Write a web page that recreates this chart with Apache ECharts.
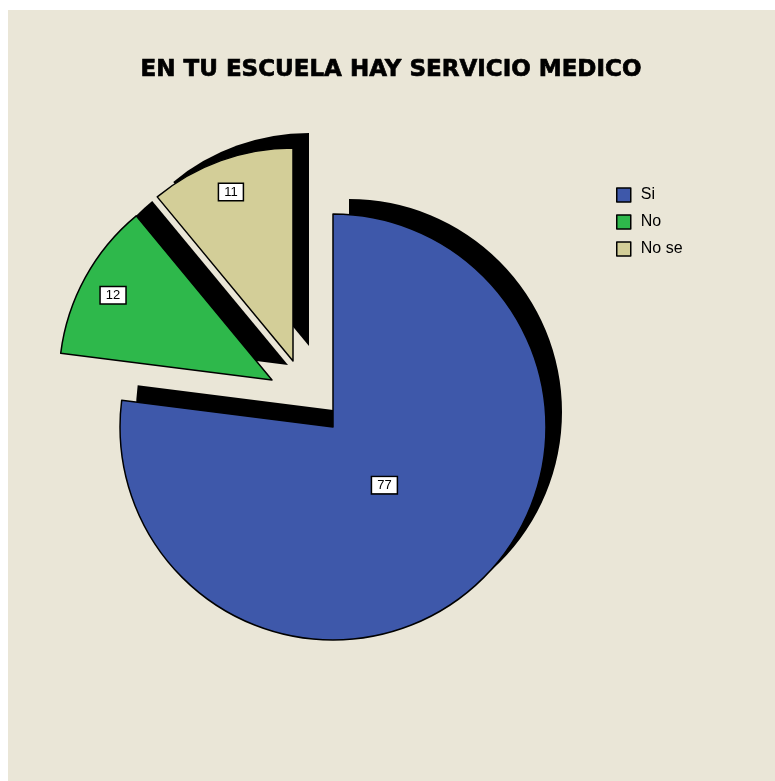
<!DOCTYPE html>
<html>
<head>
<meta charset="utf-8">
<script src="https://cdn.jsdelivr.net/npm/echarts@6/dist/echarts.min.js"></script>
<style>
html,body{margin:0;padding:0;background:#ffffff;}
#frame{position:absolute;left:8px;top:10px;width:767px;height:771px;background:#EAE6D7;}
#chart{width:767px;height:771px;}
</style>
</head>
<body>
<div id="frame"><div id="chart"></div></div>
<script>
const titleText = 'EN TU ESCUELA HAY SERVICIO MEDICO';
const categories = ['Si', 'No', 'No se'];
const values = [77, 12, 11];
const colors = ['#3E58AA', '#2EB84B', '#D3CE98'];
// explosion offsets of each slice (px, x/y) as drawn by the original
const explodeX = [0, -61, -40];
const explodeY = [0, -47, -66];
// label nudges (px) relative to default inner position
const labelDx = [-21, -63, -25];
const labelDy = [-24, -32, -66];

const chart = echarts.init(document.getElementById('chart'), null, {renderer: 'canvas'});
const cx = 325, cy = 417, R = 213, shX = 16, shY = -15;
const FONT = 'Liberation Sans, Arial, sans-serif';
const clear = 'rgba(0,0,0,0)';

function sliceData(k, shadow) {
  return categories.map((c, i) => ({
    name: c, value: values[i],
    itemStyle: i === k
      ? (shadow ? {color: '#000', borderWidth: 0} : {color: colors[i], borderColor: '#000', borderWidth: 1.5})
      : {color: clear, borderWidth: 0},
    label: {show: !shadow && i === k}
  }));
}

const series = [];
categories.forEach((c, k) => {
  series.push({
    type: 'pie', name: 'slice' + k, z: 3,
    center: [cx + explodeX[k], cy + explodeY[k]], radius: [0, R],
    startAngle: 90, clockwise: true,
    avoidLabelOverlap: false, silent: true,
    label: {
      position: 'inner', formatter: '{c}',
      fontFamily: FONT, fontSize: 13, color: '#000',
      backgroundColor: '#fff', borderColor: '#000', borderWidth: 1.5, padding: [2, 5, 1, 5]
    },
    labelLine: {show: false},
    labelLayout: function (p) { return {dx: labelDx[p.dataIndex], dy: labelDy[p.dataIndex]}; },
    emphasis: {disabled: true},
    data: sliceData(k, false)
  });
});
categories.forEach((c, k) => {
  series.push({
    type: 'pie', name: 'shadow' + k, z: 1,
    center: [cx + explodeX[k] + shX, cy + explodeY[k] + shY], radius: [0, R],
    startAngle: 90, clockwise: true, silent: true,
    label: {show: false}, labelLine: {show: false},
    emphasis: {disabled: true},
    data: sliceData(k, true)
  });
});

chart.setOption({
  animation: false,
  backgroundColor: 'transparent',
  title: {
    text: titleText, left: 378, top: 44, textAlign: 'center',
    textStyle: {fontFamily: 'DejaVu Sans, sans-serif', fontWeight: 'bold', fontSize: 23, color: '#000',
      textBorderColor: '#000', textBorderWidth: 0.7}
  },
  legend: {
    orient: 'vertical', left: 608, top: 177, padding: 0,
    data: categories.map((c, i) => ({name: c, itemStyle: {color: colors[i], borderColor: '#000', borderWidth: 1.5}})),
    icon: 'rect', itemWidth: 14, itemHeight: 14, itemGap: 11,
    textStyle: {fontFamily: FONT, fontSize: 16, color: '#000', padding: [0, 0, 0, 5]},
    selectedMode: false
  },
  series: series
});
</script>
</body>
</html>
